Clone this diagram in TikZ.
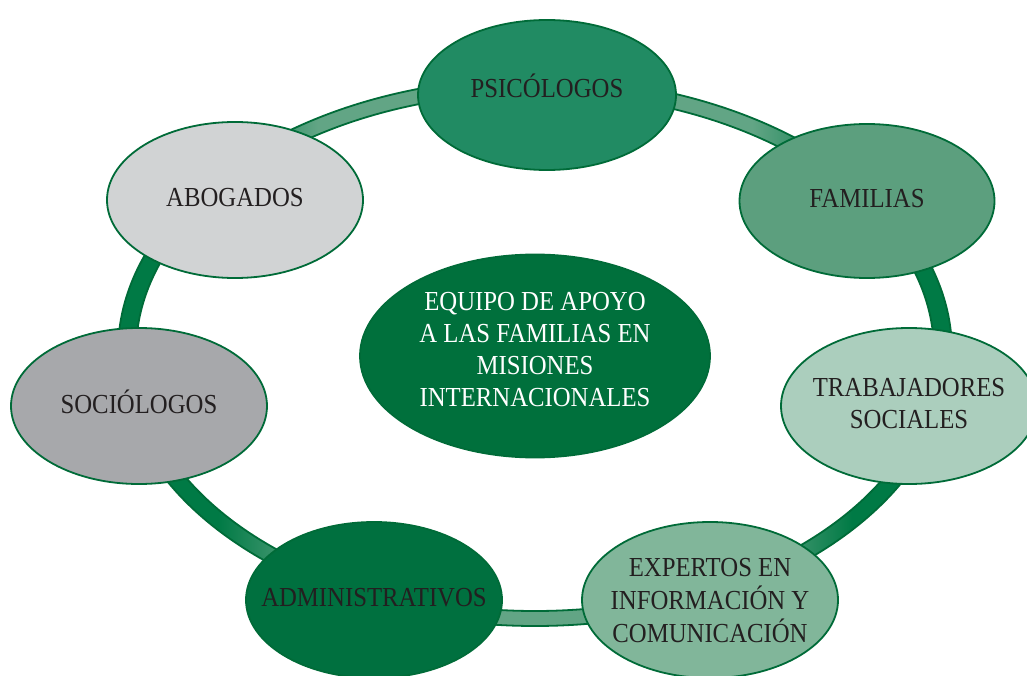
\documentclass[tikz,border=0pt]{standalone}
\usepackage{fontspec}
\setmainfont{Liberation Serif}[FakeStretch=0.9]
\usepackage{tikz}
\usetikzlibrary{shapes.geometric}

\definecolor{ringdark}{HTML}{007A45}
\definecolor{ringlight}{HTML}{62A585}
\definecolor{rimgreen}{HTML}{006B38}
\definecolor{txtgray}{HTML}{231F20}
\definecolor{psicofill}{HTML}{218B63}
\definecolor{famfill}{HTML}{5C9F7E}
\definecolor{trabfill}{HTML}{ABCEBD}
\definecolor{expfill}{HTML}{81B69A}
\definecolor{adminfill}{HTML}{00703F}
\definecolor{sociofill}{HTML}{A7A8AB}
\definecolor{abogfill}{HTML}{D1D3D4}
\definecolor{corefill}{HTML}{00703C}

\pgfdeclarehorizontalshading{ringshade}{100bp}{color(0bp)=(ringdark); color(31bp)=(ringdark); color(37bp)=(ringlight); color(63bp)=(ringlight); color(69bp)=(ringdark); color(100bp)=(ringdark)}

\newcommand{\lbl}[2][0pt]{\makebox[0pt]{\raisebox{#1}[\height][\depth]{\begin{tabular}{@{}c@{}}#2\end{tabular}}}}

\begin{document}
\begin{tikzpicture}[x=1pt,y=-1pt,
    bubble/.style={ellipse,draw=rimgreen,line width=1.8pt,inner sep=0pt,
      minimum width=256pt,minimum height=156pt,text=txtgray,
      font=\fontsize{27.5}{32}\selectfont}]

    \useasboundingbox (0,0) rectangle (1027,676);
    \clip (0,0) rectangle (1027,676);

    % Ring behind the bubbles
    \shade[shading=ringshade,even odd rule]
      (535,352) ellipse [x radius=417,y radius=274]
      (535,352) ellipse [x radius=399,y radius=259];
    \draw[rimgreen,line width=1.8pt] (535,352) ellipse [x radius=417,y radius=274];
    \draw[rimgreen,line width=1.8pt] (535,352) ellipse [x radius=399,y radius=259];

    % Central team
    \node[bubble,fill=corefill,text=white,minimum width=350pt,minimum height=203pt]
      (core) at (535,356) {\lbl[4pt]{EQUIPO DE APOYO\\A LAS FAMILIAS EN\\MISIONES\\INTERNACIONALES}};

    % Seven members around
    \node[bubble,fill=psicofill,minimum width=258pt,minimum height=150pt] (psico) at (547,95) {\lbl[5pt]{PSICÓLOGOS}};
    \node[bubble,fill=famfill,minimum width=255pt,minimum height=154pt]   (fam)   at (867,201) {\lbl{FAMILIAS}};
    \node[bubble,fill=trabfill]  (trab)  at (909,406) {\lbl{TRABAJADORES\\SOCIALES}};
    \node[bubble,fill=expfill]   (exp)   at (710,600) {\lbl[-3pt]{EXPERTOS EN\\INFORMACIÓN Y\\COMUNICACIÓN}};
    \node[bubble,fill=adminfill] (admin) at (374,600) {\lbl{ADMINISTRATIVOS}};
    \node[bubble,fill=sociofill] (socio) at (139,406) {\lbl{SOCIÓLOGOS}};
    \node[bubble,fill=abogfill]  (abog)  at (235,200) {\lbl{ABOGADOS}};

  \end{tikzpicture}
\end{document}
